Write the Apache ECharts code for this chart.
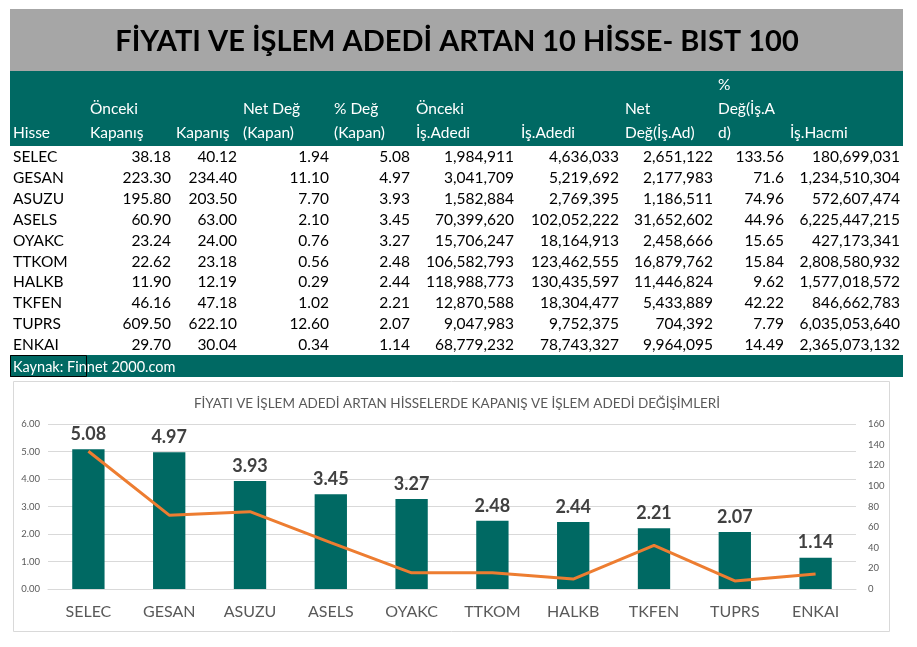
<!DOCTYPE html>
<html><head><meta charset="utf-8">
<script src="https://cdn.jsdelivr.net/npm/echarts@6/dist/echarts.min.js"></script>
<style>html,body{margin:0;padding:0;background:#fff}#c{width:917px;height:647px}</style>
</head><body><div id="c"></div>
<script>
const hisse = ['SELEC','GESAN','ASUZU','ASELS','OYAKC','TTKOM','HALKB','TKFEN','TUPRS','ENKAI'];
const oncekiKapanis = [38.18,223.30,195.80,60.90,23.24,22.62,11.90,46.16,609.50,29.70];
const kapanis = [40.12,234.40,203.50,63.00,24.00,23.18,12.19,47.18,622.10,30.04];
const netDegKapan = [1.94,11.10,7.70,2.10,0.76,0.56,0.29,1.02,12.60,0.34];
const yuzdeDegKapan = [5.08,4.97,3.93,3.45,3.27,2.48,2.44,2.21,2.07,1.14];
const oncekiIsAdedi = [1984911,3041709,1582884,70399620,15706247,106582793,118988773,12870588,9047983,68779232];
const isAdedi = [4636033,5219692,2769395,102052222,18164913,123462555,130435597,18304477,9752375,78743327];
const netDegIsAd = [2651122,2177983,1186511,31652602,2458666,16879762,11446824,5433889,704392,9964095];
const yuzdeDegIsAd = [133.56,71.6,74.96,44.96,15.65,15.84,9.62,42.22,7.79,14.49];
const isHacmi = [180699031,1234510304,572607474,6225447215,427173341,2808580932,1577018572,846662783,6035053640,2365073132];
const headers = [['Hisse'],['Önceki','Kapanış'],['Kapanış'],['Net Değ','(Kapan)'],['% Değ','(Kapan)'],['Önceki','İş.Adedi'],['İş.Adedi'],['Net','Değ(İş.Ad)'],['%','Değ(İş.A','d)'],['İş.Hacmi']];
const leftAxisTicks = [0,6,1];
const rightAxisTicks = [0,160,20];
const mainTitle = 'FİYATI VE İŞLEM ADEDİ ARTAN 10 HİSSE- BIST 100';
const chartTitle = 'FİYATI VE İŞLEM ADEDİ ARTAN HİSSELERDE KAPANIŞ VE İŞLEM ADEDİ DEĞİŞİMLERİ';
const source = 'Kaynak: Finnet 2000.com';

const FONT = 'Lato, "Open Sans", sans-serif';
const TEAL = '#006963';
const f2 = v => v.toFixed(2);
const fi = v => v.toLocaleString('en-US');
const fr = v => String(v);
const columns = [
  {vals: hisse, fmt: v => v},
  {vals: oncekiKapanis, fmt: f2},
  {vals: kapanis, fmt: f2},
  {vals: netDegKapan, fmt: f2},
  {vals: yuzdeDegKapan, fmt: f2},
  {vals: oncekiIsAdedi, fmt: fi},
  {vals: isAdedi, fmt: fi},
  {vals: netDegIsAd, fmt: fi},
  {vals: yuzdeDegIsAd, fmt: fr},
  {vals: isHacmi, fmt: fi}
];
const headerX = [13, 90, 176, 243, 334, 416, 521, 625, 718, 790];
const valueX = [13, 171, 237, 329, 410, 514, 619, 713, 784, 900];

const g = [];
g.push({type:'rect', shape:{x:10,y:9,width:893,height:62}, style:{fill:'#a6a6a6'}, silent:true});
g.push({type:'text', style:{text:mainTitle, x:457, y:42, align:'center', verticalAlign:'middle', font:'bold 29px '+FONT, fill:'#000'}});
g.push({type:'rect', shape:{x:10,y:71,width:893,height:75}, style:{fill:TEAL}, silent:true});
headers.forEach((h, ci) => {
  const n = h.length;
  h.forEach((line, li) => {
    g.push({type:'text', style:{text:line, x:headerX[ci], y:133 - (n-1-li)*24, align:'left', verticalAlign:'middle', font:'15.5px '+FONT, fill:'#fff'}});
  });
});
columns.forEach((col, ci) => {
  col.vals.forEach((v, ri) => {
    g.push({type:'text', style:{text:col.fmt(v), x:valueX[ci], y:157 + ri*20.9, align: ci===0?'left':'right', verticalAlign:'middle', font:'15.5px '+FONT, fill:'#000'}});
  });
});
g.push({type:'rect', shape:{x:10,y:355,width:893,height:22}, style:{fill:TEAL}, silent:true});
g.push({type:'rect', shape:{x:10.5,y:355.5,width:76,height:21}, style:{fill:'none', stroke:'#000', lineWidth:1}, silent:true});
g.push({type:'text', style:{text:source, x:13, y:367, align:'left', verticalAlign:'middle', font:'14.5px '+FONT, fill:'#fff'}});
g.push({type:'rect', shape:{x:13.5,y:381.5,width:876,height:250}, style:{fill:'none', stroke:'#d9d9d9', lineWidth:1}, silent:true, z:-1});

const chart = echarts.init(document.getElementById('c'), null, {renderer:'canvas'});
chart.setOption({
  backgroundColor:'#fff',
  animation:false,
  title:{text:chartTitle, left:452, top:392, textAlign:'center', textStyle:{fontFamily:FONT, fontSize:13.5, fontWeight:'normal', color:'#595959'}},
  grid:{left:48, right:61, top:424, bottom:58},
  xAxis:{type:'category', data:hisse, axisTick:{show:false}, axisLine:{lineStyle:{color:'#d9d9d9'}},
    axisLabel:{fontFamily:FONT, fontSize:16, color:'#595959', margin:15}},
  yAxis:[
    {type:'value', min:leftAxisTicks[0], max:leftAxisTicks[1], interval:leftAxisTicks[2],
      axisLabel:{formatter:v=>v.toFixed(2), fontFamily:FONT, fontSize:9.5, color:'#595959', margin:8},
      splitLine:{lineStyle:{color:'#d9d9d9'}}, axisLine:{show:false}, axisTick:{show:false}},
    {type:'value', min:rightAxisTicks[0], max:rightAxisTicks[1], interval:rightAxisTicks[2],
      axisLabel:{fontFamily:FONT, fontSize:9.5, color:'#595959', margin:12},
      splitLine:{show:false}, axisLine:{show:false}, axisTick:{show:false}}
  ],
  series:[
    {type:'bar', data:yuzdeDegKapan, barWidth:'40%', itemStyle:{color:TEAL},
      label:{show:true, position:'top', distance:6, formatter:p=>p.value.toFixed(2), fontFamily:FONT, fontSize:18, fontWeight:'bold', color:'#404040'}},
    {type:'line', yAxisIndex:1, data:yuzdeDegIsAd, symbol:'none', lineStyle:{color:'#ed7d31', width:3}, itemStyle:{color:'#ed7d31'}}
  ],
  graphic:g
});
</script></body></html>
